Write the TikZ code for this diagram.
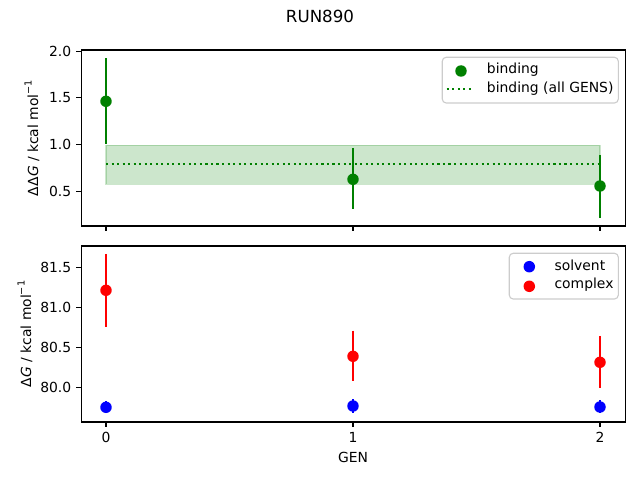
\documentclass[tikz,border=0pt]{standalone}
\usepackage{fontspec}
\setmainfont{DejaVu Sans}
\definecolor{mgreen}{HTML}{008000}
\definecolor{mblue}{HTML}{0000FF}
\definecolor{mred}{HTML}{FF0000}
\definecolor{legedge}{gray}{0.8}
\newcommand{\supmone}{\raisebox{0.85ex}{\fontsize{7bp}{8bp}\selectfont −1}}
\tikzset{
  axisframe/.style={line width=0.8bp, black},
  tickline/.style={line width=0.8bp, black},
  ticklab/.style={font=\fontsize{10bp}{12bp}\selectfont, inner sep=0pt},
  ylab/.style={ticklab, anchor=east},
  xlab/.style={ticklab, anchor=north},
  dot/.style={circle, fill=#1, draw=none, minimum size=8.3, inner sep=0pt},
  errbar/.style={line width=1.5bp, draw=#1},
  legbox/.style={draw=legedge, fill=white, fill opacity=0.8, line width=0.8bp, rounded corners=2.8},
  legtext/.style={ticklab, anchor=west},
}
\begin{document}
\begin{tikzpicture}[x=0.01in, y=-0.01in]
\useasboundingbox (0,0) rectangle (640,480);
% title
\node[font=\fontsize{12bp}{14bp}\selectfont, inner sep=0pt] (title) at (320,16) {RUN890};

% ================= TOP PANEL =================
\fill[mgreen, fill opacity=0.2] (106,145.3) rectangle (600,184.3);
\draw[mgreen, opacity=0.2, line width=1bp] (106,145.3) rectangle (600,184.3);
\coordinate (dl) at (106,163.7);
\coordinate (dr) at (600,163.7);
\draw[mgreen, line width=1.5bp, dash pattern=on 1.5bp off 2.475bp] (dl) -- (dr);
\coordinate (t0a) at (106,58.3);  \coordinate (t0b) at (106,144);
\coordinate (t1a) at (353,148);   \coordinate (t1b) at (353,209.3);
\coordinate (t2a) at (600,155);   \coordinate (t2b) at (600,217.7);
\draw[errbar=mgreen] (t0a) -- (t0b);
\draw[errbar=mgreen] (t1a) -- (t1b);
\draw[errbar=mgreen] (t2a) -- (t2b);
\node[dot=mgreen] (tp0) at (106,101.3) {};
\node[dot=mgreen] (tp1) at (353,179.3) {};
\node[dot=mgreen] (tp2) at (600,186) {};
\draw[axisframe] (81.3,50) rectangle (625.3,226);
\foreach \v/\yy/\nm in {2.0/51.3/a, 1.5/97.3/b, 1.0/144.3/c, 0.5/191.3/d}{
  \draw[tickline] (81.3,\yy) -- (76.4,\yy);
  \node[ylab] (tyl\nm) at (71.5,\yy) {\v};
}
\foreach \xx in {106,353,600}{
  \draw[tickline] (\xx,226) -- (\xx,230.9);
}
\node[ticklab, rotate=90] (tylabel) at (32,138) {ΔΔ\textit{G} / kcal mol\supmone};
% legend
\draw[legbox] (442.3,57.3) rectangle (618.3,103);
\node[dot=mgreen] (tlm) at (461,71) {};
\node[legtext] (tlt1) at (486.7,69.5) {binding};
\coordinate (tll) at (446.7,89);
\coordinate (tlr) at (474.3,89);
\draw[mgreen, line width=1.5bp, dash pattern=on 1.5bp off 2.475bp] (tll) -- (tlr);
\node[legtext] (tlt2) at (486.7,89) {binding (all GENS)};

% ================= BOTTOM PANEL =================
\coordinate (r0a) at (106,254);   \coordinate (r0b) at (106,326.7);
\coordinate (r1a) at (353,330.7); \coordinate (r1b) at (353,381);
\coordinate (r2a) at (600,336);   \coordinate (r2b) at (600,387.7);
\draw[errbar=mred] (r0a) -- (r0b);
\draw[errbar=mred] (r1a) -- (r1b);
\draw[errbar=mred] (r2a) -- (r2b);
\coordinate (b0a) at (106,401);   \coordinate (b0b) at (106,413.3);
\coordinate (b1a) at (353,399.3); \coordinate (b1b) at (353,413);
\coordinate (b2a) at (600,400.3); \coordinate (b2b) at (600,413.3);
\draw[errbar=mblue] (b0a) -- (b0b);
\draw[errbar=mblue] (b1a) -- (b1b);
\draw[errbar=mblue] (b2a) -- (b2b);
\node[dot=mblue] (bp0) at (106,407.3) {};
\node[dot=mblue] (bp1) at (353,406) {};
\node[dot=mblue] (bp2) at (600,407) {};
\node[dot=mred] (rp0) at (106,290.3) {};
\node[dot=mred] (rp1) at (353,356.3) {};
\node[dot=mred] (rp2) at (600,362.3) {};
\draw[axisframe] (81.3,246) rectangle (625.3,422);
\foreach \v/\yy/\nm in {81.5/267.7/a, 81.0/307.7/b, 80.5/347.7/c, 80.0/387.3/d}{
  \draw[tickline] (81.3,\yy) -- (76.4,\yy);
  \node[ylab] (byl\nm) at (71.5,\yy) {\v};
}
\foreach \xx/\v in {106/0,353/1,600/2}{
  \draw[tickline] (\xx,422) -- (\xx,426.9);
  \node[xlab] (bxl\v) at (\xx,431.7) {\v};
}
\node[ticklab] (bxlabel) at (353,457.3) {GEN};
\node[ticklab, rotate=90] (bylabel) at (25,334) {Δ\textit{G} / kcal mol\supmone};
% legend
\draw[legbox] (509.3,253.3) rectangle (618.3,299);
\node[dot=mblue] (blm1) at (529.3,266.7) {};
\node[dot=mred] (blm2) at (529.3,286.3) {};
\node[legtext] (blt1) at (554.3,265.2) {solvent};
\node[legtext] (blt2) at (554.3,285) {complex};
\end{tikzpicture}
\end{document}
